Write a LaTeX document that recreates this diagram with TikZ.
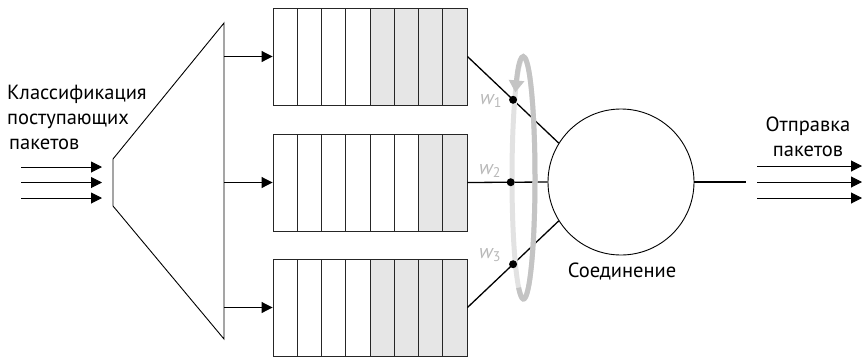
\documentclass[tikz,border=0pt]{standalone}
\usepackage{fontspec}
\setmainfont{PT Sans}
\usetikzlibrary{arrows.meta,positioning}

\definecolor{cellgray}{HTML}{E6E6E6}
\definecolor{loopdark}{HTML}{C4C4C4}
\definecolor{looplight}{HTML}{E2E2E2}
\definecolor{wgray}{HTML}{B8B8B8}

\begin{document}
\begin{tikzpicture}[
  x=1pt, y=-1pt,
  txt/.style={font=\fontsize{20.5}{25}\selectfont, inner sep=0pt},
  queue/.style={draw=black!85, line width=0.9pt, minimum width=194pt,
    minimum height=97pt, inner sep=0pt,
    path picture={
      \fill[cellgray] ([xshift=-#1*24.25pt]path picture bounding box.north east)
        rectangle (path picture bounding box.south east);
      \foreach \i in {1,...,7}
        \draw[black!85, line width=0.9pt]
          ([xshift=\i*24.25pt]path picture bounding box.north west) --
          ([xshift=\i*24.25pt]path picture bounding box.south west);
    }},
  link/.style={circle, draw, line width=0.9pt, minimum size=146pt, inner sep=0pt},
  wire/.style={line width=1.3pt},
  arrow/.style={-{Triangle[length=11pt,width=11pt]}, line width=1pt},
  dot/.style={circle, fill, inner sep=0pt, minimum size=8pt},
  weight/.style={font=\itshape\fontsize{20}{20}\selectfont, text=wgray, inner sep=0pt}
]
\useasboundingbox (0,0) rectangle (862,357);

% classifier
\draw[line width=0.9pt] (224,23) -- (113,159) -- (113,206) -- (224,339) -- cycle;
\node[txt, align=left, anchor=base west] (inlbl) at (7,149)
  {Классификация\\поступающих\\\hspace{2pt}пакетов};
\foreach \y [count=\i] in {167,182.5,198} {
  \coordinate (in\i) at (21,\y);
  \coordinate (cls\i) at (102,\y);
  \draw[arrow] (in\i) -- (cls\i);
}

% queues
\node[queue=4] (q1) at (370,56.5) {};
\node[queue=2] (q2) at (370,182.5) {};
\node[queue=4] (q3) at (370,307.5) {};
\coordinate (cl1) at (224,56.5);
\coordinate (cl2) at (224,182.5);
\coordinate (cl3) at (224,307.5);
\draw[arrow] (cl1) -- (q1.west);
\draw[arrow] (cl2) -- (q2.west);
\draw[arrow] (cl3) -- (q3.west);

% link
\node[link] (link) at (621,182) {};
\node[txt, anchor=base] (linklbl) at (622,277) {Соединение};
\draw[wire] (q1.east) -- (link.148) coordinate[pos=0.5] (d1);
\draw[wire] (q2.east) -- (link.west) coordinate[pos=0.54] (d2);
\draw[wire] (q3.east) -- (link.212) coordinate[pos=0.5] (d3);

% round robin loop
\coordinate (loopc) at (523.5,178);
\draw[looplight, line width=5pt] (loopc) ellipse [x radius=11.5pt, y radius=121pt];
\draw[loopdark, line width=5pt, -{Triangle[length=12pt,width=15pt]}]
  ([shift={(-115:11.5pt and 121pt)}]loopc)
  arc[start angle=-115, end angle=135, x radius=11.5pt, y radius=121pt];
\node[dot] at (d1) {};
\node[dot] at (d2) {};
\node[dot] at (d3) {};
\node[weight] (w1) at (491,101) {w\textsubscript{\upshape 1}};
\node[weight] (w2) at (490,171) {w\textsubscript{\upshape 2}};
\node[weight] (w3) at (490,255) {w\textsubscript{\upshape 3}};

% output
\coordinate (out) at (746,182);
\draw[wire] (link.east) -- (out);
\node[txt, align=center, anchor=base] (outlbl) at (808,156) {Отправка\\пакетов};
\foreach \y [count=\i] in {166,182,198} {
  \coordinate (src\i) at (757,\y);
  \coordinate (dst\i) at (862,\y);
  \draw[arrow] (src\i) -- (dst\i);
}
\end{tikzpicture}
\end{document}
